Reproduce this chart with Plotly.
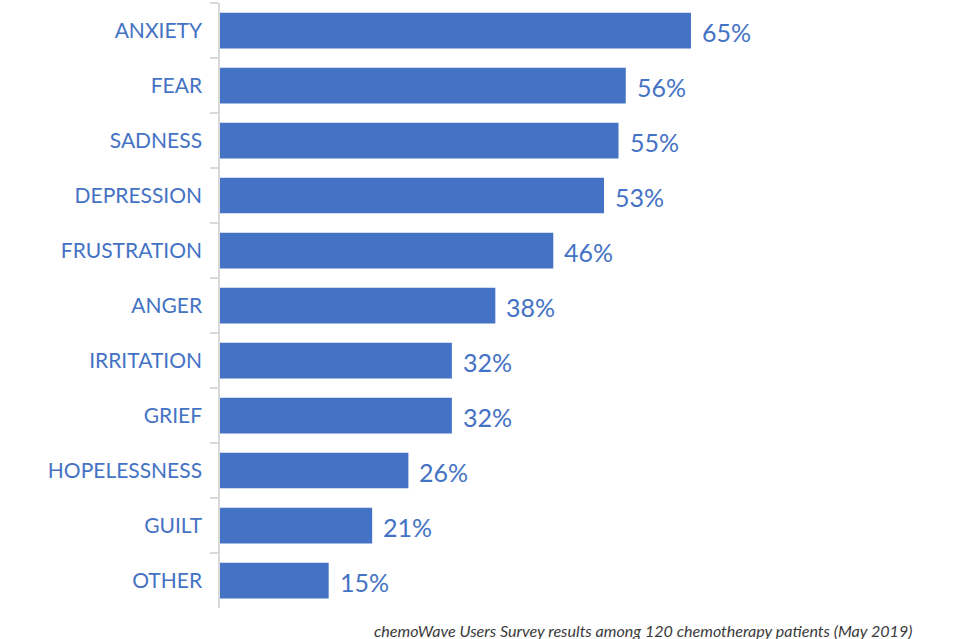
import plotly.graph_objects as go

categories = ["ANXIETY", "FEAR", "SADNESS", "DEPRESSION", "FRUSTRATION", "ANGER",
              "IRRITATION", "GRIEF", "HOPELESSNESS", "GUILT", "OTHER"]
values = [65, 56, 55, 53, 46, 38, 32, 32, 26, 21, 15]
value_labels = [f"{v}%" for v in values]
caption = "chemoWave Users Survey results among 120 chemotherapy patients (May 2019)"

BLUE = "#4472c4"
FONT = "Lato, 'Open Sans', sans-serif"

fig = go.Figure()
fig.add_trace(go.Bar(
    x=values, y=categories, orientation="h",
    marker=dict(color=BLUE, line=dict(width=0)),
    hoverinfo="skip",
))

for c, v, t in zip(categories, values, value_labels):
    fig.add_annotation(x=v, y=c, text=t, xref="x", yref="y", showarrow=False,
                       xanchor="left", yanchor="middle", xshift=9, yshift=-1,
                       font=dict(family=FONT, size=25, color=BLUE))

fig.add_annotation(x=(914 - 220) / (960 - 240), y=(639 - 630 - 31) / (639 - 34),
                   xref="paper", yref="paper", text=f"<i>{caption}</i>",
                   showarrow=False, xanchor="right", yanchor="middle",
                   font=dict(family=FONT, size=16.1, color="#3a3a3a"))

fig.update_layout(
    width=960, height=639,
    margin=dict(l=220, r=20, t=3, b=31),
    paper_bgcolor="white", plot_bgcolor="white",
    bargap=0.35,
    showlegend=False,
    xaxis=dict(range=[0, 99.37], visible=False, fixedrange=True),
    yaxis=dict(
        autorange="reversed", showgrid=False, zeroline=False,
        showline=True, linecolor="#d9d9d9", linewidth=1.5,
        ticks="outside", tickson="boundaries", ticklen=8, tickcolor="#d9d9d9", tickwidth=1.5,
        ticklabelstandoff=12,
        tickfont=dict(family=FONT, size=21, color=BLUE),
    ),
)

fig.write_html("out.html")
